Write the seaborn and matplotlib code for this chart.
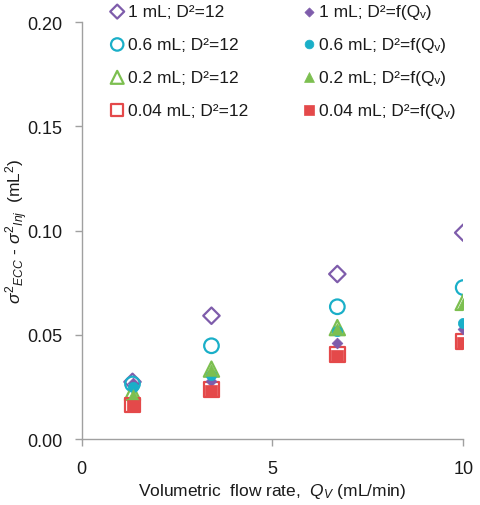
import matplotlib
matplotlib.use("Agg")
import matplotlib.pyplot as plt
import seaborn as sns
import pandas as pd

# Volumetric flow rates (mL/min)
flow_rate = [1.33, 3.4, 6.7, 10.0]

# Variance difference (mL^2), constant D^2 = 12
var_1ml_const = [0.0275, 0.0592, 0.0792, 0.0990]
var_06ml_const = [0.0265, 0.0448, 0.0635, 0.0727]
var_02ml_const = [0.0225, 0.0336, 0.0535, 0.0656]
var_004ml_const = [0.0165, 0.0237, 0.0405, 0.0469]

# Variance difference (mL^2), D^2 = f(Qv)
var_1ml_f = [0.0270, 0.0280, 0.0460, 0.0528]
var_06ml_f = [0.0250, 0.0310, 0.0520, 0.0556]
var_02ml_f = [0.0210, 0.0330, 0.0530, 0.0650]
var_004ml_f = [0.0160, 0.0230, 0.0400, 0.0460]

labels_const = ["1 mL; D²=12", "0.6 mL; D²=12", "0.2 mL; D²=12", "0.04 mL; D²=12"]
labels_f = ["1 mL; D²=f(Qᵥ)", "0.6 mL; D²=f(Qᵥ)", "0.2 mL; D²=f(Qᵥ)", "0.04 mL; D²=f(Qᵥ)"]

colors = ["#7E5CAB", "#1AAFC8", "#7CBF50", "#E4494A"]
markers = ["D", "o", "^", "s"]
open_sizes = [70, 110, 120, 110]
filled_sizes = [30, 55, 70, 70]

sns.set_theme(style="ticks")
plt.rcParams["font.family"] = ["Liberation Sans", "DejaVu Sans"]
plt.rcParams["mathtext.fontset"] = "custom"
plt.rcParams["mathtext.rm"] = "Liberation Sans"
plt.rcParams["mathtext.it"] = "Liberation Sans:italic"
plt.rcParams["mathtext.bf"] = "Liberation Sans:bold"

fig = plt.figure(figsize=(4.81, 5.06), dpi=100)
ax = fig.add_axes([0.170, 0.130, 0.793, 0.8245])

const_series = [var_1ml_const, var_06ml_const, var_02ml_const, var_004ml_const]
f_series = [var_1ml_f, var_06ml_f, var_02ml_f, var_004ml_f]

for vals, lab, col, mk, sz in zip(const_series, labels_const, colors, markers, open_sizes):
    df = pd.DataFrame({"Q": flow_rate, "v": vals})
    sns.scatterplot(data=df, x="Q", y="v", ax=ax, marker=mk, s=sz,
                    facecolors="none", edgecolor=col, linewidth=1.6, label=lab)

for vals, lab, col, mk, sz in zip(f_series, labels_f, colors, markers, filled_sizes):
    df = pd.DataFrame({"Q": flow_rate, "v": vals})
    sns.scatterplot(data=df, x="Q", y="v", ax=ax, marker=mk, s=sz,
                    color=col, edgecolor=col, linewidth=0.5, label=lab)

ax.set_xlim(0, 10)
ax.set_ylim(0, 0.20)
ax.set_xticks([0, 5, 10])
ax.set_yticks([0.0, 0.05, 0.10, 0.15, 0.20])
ax.set_yticklabels(["0.00", "0.05", "0.10", "0.15", "0.20"])

for side in ["top", "right"]:
    ax.spines[side].set_visible(False)
for side in ["left", "bottom"]:
    ax.spines[side].set_color("#A0A0A0")
    ax.spines[side].set_linewidth(1.0)
ax.tick_params(axis="both", colors="#A0A0A0", labelcolor="#1a1a1a",
               labelsize=13, length=5, width=1.0, direction="out")
ax.tick_params(axis="x", pad=10)
ax.tick_params(axis="y", pad=9)

ax.set_xlabel("Volumetric  flow rate,  $\\mathit{Q_V}$ (mL/min)", fontsize=12.5,
              color="#1a1a1a", labelpad=3)
ax.set_ylabel("$\\mathit{\\sigma^2}_{\\mathit{ECC}}$ - $\\mathit{\\sigma^2}_{\\mathit{Inj}}$  (mL$^2$)",
              fontsize=12.5, color="#1a1a1a")
ax.yaxis.set_label_coords(-0.136, 0.5)

handles, labs = ax.get_legend_handles_labels()
leg = ax.legend(handles, labs, ncol=2, loc="upper left",
                bbox_to_anchor=(112 / 481, 1 - 5 / 506), bbox_transform=fig.transFigure,
                frameon=False, fontsize=12.5, handlelength=0.6, handletextpad=0.3,
                markerscale=0.85,
                columnspacing=3.2, labelspacing=1.02, borderaxespad=0, borderpad=0)
for t in leg.get_texts():
    t.set_color("#1a1a1a")

fig.savefig("out.png", dpi=100)
